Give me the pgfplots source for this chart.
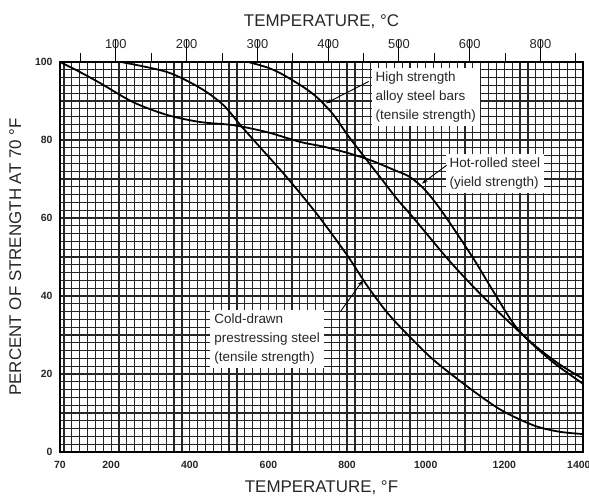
\documentclass[border=0pt]{standalone}
\usepackage{fontspec}
\setmainfont{Liberation Sans}
\usepackage{pgfplots}
\pgfplotsset{compat=1.18}
\usetikzlibrary{arrows.meta}

\pgfplotsset{
  chartbox/.style={
    scale only axis, width=523bp, height=390bp,
    xmin=70, xmax=1400, ymin=0, ymax=100,
  },
}
\tikzset{
  note/.style={fill=white, align=left, anchor=north west, inner sep=4bp,
    font=\fontsize{13.5}{19}\selectfont, text=black!85},
  pointer/.style={black, line width=0.9bp, -{Stealth[length=6bp,width=4bp]}},
}

\begin{document}
\begin{tikzpicture}
% main axis: deg F, percent
\begin{axis}[
  chartbox,
  xtick={70,200,400,600,800,1000,1200},
  extra x ticks={1400},
  extra x tick style={grid=none, xticklabel style={anchor=north east, xshift=11bp}},
  ytick={0,20,...,100},
  minor xtick={80,100,...,1380},
  minor ytick={2,4,...,98},
  grid=minor,
  minor grid style={black!85, line width=1.2bp},
  major tick length=0pt, minor tick length=0pt,
  axis line style={black, line width=2bp},
  ticklabel style={font=\fontsize{10.5}{12}\selectfont\bfseries, text=black!85},
  xticklabel style={yshift=-6bp},
  yticklabel style={xshift=-4bp},
  /pgf/number format/assume math mode=true,
  /pgf/number format/set thousands separator={},
  xlabel={TEMPERATURE, °F},
  ylabel={PERCENT OF STRENGTH AT 70 °F},
  label style={font=\fontsize{17}{20}\selectfont, text=black!85},
  xlabel style={yshift=-5bp},
  ylabel shift=7bp,
]
% hot-rolled steel (yield strength)
\addplot[black, line width=1.8bp, smooth] coordinates {
  (70,100) (110,98) (172,94.6) (256,89.7) (343,86.4) (427,84.6) (511,83.8)
  (597,82) (681,79.5) (740,78.3) (801,76.7) (860,74.8) (920,72.3) (960,70.5)
  (1000,67) (1046,61) (1122,49.5) (1173,41) (1234,31.5) (1318,23.5) (1400,17.5)
};
% cold-drawn prestressing steel (tensile strength)
\addplot[black, line width=1.8bp, smooth] coordinates {
  (225,100) (343,97.4) (427,93.3) (485,89) (529,83.8) (580,78) (648,70.3)
  (725,60.8) (800,50.5) (850,42.8) (900,36) (950,30.5) (1020,23.6)
  (1107,16.7) (1191,10.8) (1275,6.8) (1340,5.2) (1400,4.6)
};
% high strength alloy steel bars (tensile strength)
\addplot[black, line width=1.8bp, smooth] coordinates {
  (549,100) (600,98.5) (638,96.7) (690,93.5) (725,90.8) (766,86.4) (801,81.3)
  (850,74.9) (893,69.3) (930,64.5) (969,60) (1056,49.5) (1120,42.5)
  (1191,35.3) (1275,27.5) (1340,22.5) (1400,18.8)
};

\node[note] at (axis cs:862,98.5) {High strength\\alloy steel bars\\(tensile strength)};
\node[note] at (axis cs:1050,76.5) {Hot-rolled steel\\(yield strength)};
\node[note] at (axis cs:452,36.5) {Cold-drawn\\prestressing steel\\(tensile strength)};
\draw[pointer] (axis cs:855,95) -- (axis cs:746,89.4);
\draw[pointer] (axis cs:1053,73.5) -- (axis cs:990,68.8);
\draw[pointer] (axis cs:783,36) -- (axis cs:840,44);

\coordinate (O) at (rel axis cs:0,0);
\end{axis}

% top axis: deg C
\begin{axis}[
  chartbox,
  axis x line*=top, axis y line=none,
  ytick=\empty,
  xtick={212,392,572,752,932,1112,1292},
  xticklabels={100,200,300,400,500,600,800},
  minor xtick={122,302,482,662,842,1022,1202,1382},
  tick align=outside,
  major tick length=22bp, minor tick length=9bp,
  every tick/.style={black, line width=1bp},
  xticklabel shift=-12bp,
  ticklabel style={font=\fontsize{13}{15}\selectfont, text=black!85},
  /pgf/number format/assume math mode=true,
  xlabel={TEMPERATURE, °C},
  label style={font=\fontsize{17}{20}\selectfont, text=black!85},
  xlabel style={yshift=4bp},
]
\end{axis}

\pgfresetboundingbox
\path[use as bounding box] ([shift={(-60bp,-47bp)}]O) rectangle ([shift={(529bp,452bp)}]O);
\end{tikzpicture}
\end{document}
